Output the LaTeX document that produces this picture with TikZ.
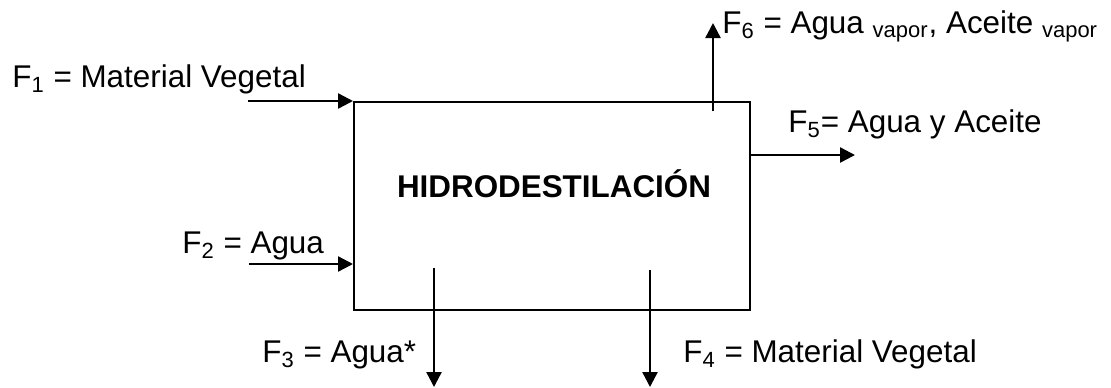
\documentclass[tikz,border=0pt]{standalone}
\usepackage{fontspec}
\setmainfont{Liberation Sans}
\usetikzlibrary{arrows.meta}
\tikzset{flow/.style={-{Triangle[length=7.5pt,width=7.5pt]},line width=1.2pt},
 stream/.style={anchor=base west,inner sep=0pt},
 every node/.style={font=\fontsize{15.7}{19}\selectfont}}

\begin{document}
\begin{tikzpicture}[x=0.5pt,y=-0.5pt]
\useasboundingbox (0,0) rectangle (1111,387);
\node[draw,line width=1pt,minimum width=198pt,minimum height=104pt,inner sep=0pt] (hd) at (552,205.5) {};
\node[anchor=base,inner sep=0pt,font=\fontsize{15.7}{19}\selectfont\bfseries] (title) at (554,197) {HIDRODESTILACIÓN};
% entradas
\coordinate (f1in) at (248,101);
\coordinate (f2in) at (249,264);
\draw[flow] (f1in) -- (f1in -| hd.west);
\draw[flow] (f2in) -- (f2in -| hd.west);
\node[stream] (f1) at (12,87) {F\textsubscript{1} = Material Vegetal};
\node[stream] (f2) at (182,253) {F\textsubscript{2} = Agua};
% salidas
\coordinate (f3a) at (434,268);
\coordinate (f3b) at (434,387);
\coordinate (f4a) at (650,270);
\coordinate (f4b) at (650,387);
\coordinate (f5b) at (855,155);
\coordinate (f6a) at (713,111);
\coordinate (f6b) at (713,23);
\draw[flow] (f3a) -- (f3b);
\draw[flow] (f4a) -- (f4b);
\draw[flow] (f5b -| hd.east) -- (f5b);
\draw[flow] (f6a) -- (f6b);
\node[stream] (f3) at (262,362) {F\textsubscript{3} = Agua*};
\node[stream] (f4) at (683,362) {F\textsubscript{4} = Material Vegetal};
\node[stream] (f5) at (788,132) {F\textsubscript{5}= Agua y Aceite};
\node[stream] (f6) at (722,33) {F\textsubscript{6} = Agua \textsubscript{vapor}, Aceite \textsubscript{vapor}};
\end{tikzpicture}
\end{document}
